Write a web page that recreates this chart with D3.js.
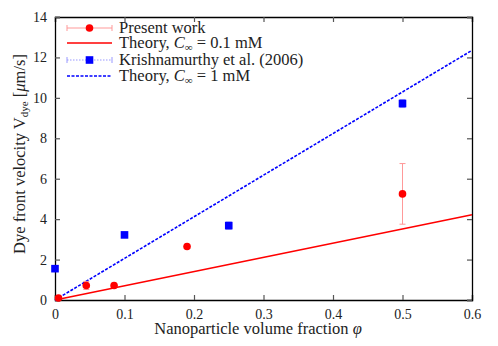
<!DOCTYPE html>
<html>
<head>
<meta charset="utf-8">
<script src="https://cdn.jsdelivr.net/npm/d3@7"></script>
<style>
  body { margin: 0; background: #fff; }
</style>
</head>
<body>
<svg id="chart"></svg>
<script>
const width = 498;
const height = 346;
const margin = {top: 17, right: 26, bottom: 46, left: 55};
const serif = "Liberation Serif";

// data
const presentX = [0.005, 0.045, 0.085, 0.19, 0.5];
const presentY = [0.1, 0.72, 0.72, 2.65, 5.25];
const presentErr = [0.05, 0.2, 0.1, 0.08, 1.5];
const krishX = [0, 0.1, 0.25, 0.5];
const krishY = [1.55, 3.22, 3.68, 9.72];
const krishErr = [0.05, 0.1, 0.18, 0.2];
const theoryX = [0, 0.6];
const theoryLow = [0, 4.22];
const theoryHigh = [0, 12.35];
const xTicks = [0, 0.1, 0.2, 0.3, 0.4, 0.5, 0.6];
const yTicks = [0, 2, 4, 6, 8, 10, 12, 14];

const svg = d3.select("#chart").attr("width", width).attr("height", height);

const x = d3.scaleLinear().domain([0, 0.6]).range([margin.left, width - margin.right]);
const y = d3.scaleLinear().domain([0, 14]).range([height - margin.bottom, margin.top]);

const g = svg.append("g");

// axes (box with inward ticks)
const tickCol = "#555";
g.append("g").attr("transform", `translate(0,${y(0)})`)
  .call(d3.axisBottom(x).tickValues(xTicks).tickSize(-5).tickPadding(9).tickFormat(d => d === 0 ? "0" : d3.format(".1f")(d)));
g.append("g").attr("transform", `translate(0,${y(14)})`)
  .call(d3.axisTop(x).tickValues(xTicks).tickSize(-5).tickFormat(""));
g.append("g").attr("transform", `translate(${x(0)},0)`)
  .call(d3.axisLeft(y).tickValues(yTicks).tickSize(-5).tickPadding(8));
g.append("g").attr("transform", `translate(${x(0.6)},0)`)
  .call(d3.axisRight(y).tickValues(yTicks).tickSize(-5).tickFormat(""));

g.selectAll(".domain").attr("stroke", "#000").attr("stroke-width", 1.3);
g.selectAll(".tick line").attr("stroke", tickCol).attr("stroke-width", 1.2);
g.selectAll(".tick text").attr("font-size", 14).attr("font-family", serif).attr("fill", "#222");

// theory lines
const line = d3.line().x(d => x(d[0])).y(d => y(d[1]));
g.append("path").datum(d3.zip(theoryX, theoryLow))
  .attr("d", line).attr("fill", "none").attr("stroke", "#f00").attr("stroke-width", 1.6);
g.append("path").datum(d3.zip(theoryX, theoryHigh))
  .attr("d", line).attr("fill", "none").attr("stroke", "#00f").attr("stroke-width", 1.6)
  .attr("stroke-dasharray", "3,1.5");

// error bars
function errorBars(xs, ys, es, col, cap) {
  const data = d3.zip(xs, ys, es);
  const eb = g.append("g").attr("stroke", col).attr("stroke-width", 1);
  eb.selectAll(".v").data(data).enter().append("line")
    .attr("x1", d => x(d[0])).attr("x2", d => x(d[0]))
    .attr("y1", d => y(d[1] - d[2])).attr("y2", d => y(d[1] + d[2]));
  eb.selectAll(".t").data(data).enter().append("line")
    .attr("x1", d => x(d[0]) - cap).attr("x2", d => x(d[0]) + cap)
    .attr("y1", d => y(d[1] + d[2])).attr("y2", d => y(d[1] + d[2]));
  eb.selectAll(".b").data(data).enter().append("line")
    .attr("x1", d => x(d[0]) - cap).attr("x2", d => x(d[0]) + cap)
    .attr("y1", d => y(d[1] - d[2])).attr("y2", d => y(d[1] - d[2]));
}
errorBars(presentX, presentY, presentErr, "#f99", 3);
errorBars(krishX, krishY, krishErr, "#99f", 3);

g.selectAll(".red").data(d3.zip(presentX, presentY)).enter().append("circle")
  .attr("cx", d => x(d[0])).attr("cy", d => y(d[1])).attr("r", 3.8).attr("fill", "#f00");
g.selectAll(".blue").data(d3.zip(krishX, krishY)).enter().append("rect")
  .attr("x", d => x(d[0]) - 3.8).attr("y", d => y(d[1]) - 3.8)
  .attr("width", 7.6).attr("height", 7.6).attr("fill", "#00f");

// legend
const leg = g.append("g");
const lx0 = 67, lx1 = 112, tx = 119;
const rows = [28, 43, 60, 76];
// row 1
leg.append("line").attr("x1", lx0).attr("x2", lx1).attr("y1", rows[0]).attr("y2", rows[0]).attr("stroke", "#f99");
[lx0, lx1].forEach(v => leg.append("line").attr("x1", v).attr("x2", v).attr("y1", rows[0] - 3).attr("y2", rows[0] + 3).attr("stroke", "#f99"));
leg.append("circle").attr("cx", (lx0 + lx1) / 2).attr("cy", rows[0]).attr("r", 3.8).attr("fill", "#f00");
// row 2
leg.append("line").attr("x1", lx0).attr("x2", lx1).attr("y1", rows[1]).attr("y2", rows[1]).attr("stroke", "#f00").attr("stroke-width", 1.6);
// row 3
leg.append("line").attr("x1", lx0).attr("x2", lx1).attr("y1", rows[2]).attr("y2", rows[2]).attr("stroke", "#99f").attr("stroke-dasharray", "1.5,1.5");
[lx0, lx1].forEach(v => leg.append("line").attr("x1", v).attr("x2", v).attr("y1", rows[2] - 3).attr("y2", rows[2] + 3).attr("stroke", "#99f"));
leg.append("rect").attr("x", (lx0 + lx1) / 2 - 3.8).attr("y", rows[2] - 3.8).attr("width", 7.6).attr("height", 7.6).attr("fill", "#00f");
// row 4
leg.append("line").attr("x1", lx0).attr("x2", lx1).attr("y1", rows[3]).attr("y2", rows[3]).attr("stroke", "#00f").attr("stroke-width", 1.6).attr("stroke-dasharray", "3,1.5");

function txt(sel) {
  return sel.append("text").attr("font-family", serif).attr("font-size", 16.5).attr("fill", "#222");
}
txt(leg).attr("x", tx).attr("y", rows[0] + 5).text("Present work");
const t2 = txt(leg).attr("x", tx).attr("y", rows[1] + 5);
t2.append("tspan").text("Theory, ");
t2.append("tspan").attr("font-style", "italic").text("C");
t2.append("tspan").attr("font-size", 11).attr("dy", 3).text("∞");
t2.append("tspan").attr("dy", -3).text(" = 0.1 mM");
txt(leg).attr("x", tx).attr("y", rows[2] + 5).text("Krishnamurthy et al. (2006)");
const t4 = txt(leg).attr("x", tx).attr("y", rows[3] + 5);
t4.append("tspan").text("Theory, ");
t4.append("tspan").attr("font-style", "italic").text("C");
t4.append("tspan").attr("font-size", 11).attr("dy", 3).text("∞");
t4.append("tspan").attr("dy", -3).text(" = 1 mM");

// axis labels
const xl = txt(svg).attr("x", 258).attr("y", 334)
  .attr("text-anchor", "middle");
xl.append("tspan").text("Nanoparticle volume fraction ");
xl.append("tspan").attr("font-style", "italic").text("φ");

const yl = txt(svg).attr("transform", `translate(25,154) rotate(-90)`)
  .attr("text-anchor", "middle");
yl.append("tspan").text("Dye front velocity V");
yl.append("tspan").attr("font-size", 11).attr("dy", 3).text("dye");
yl.append("tspan").attr("dy", -3).text(" [");
yl.append("tspan").attr("font-style", "italic").text("μ");
yl.append("tspan").text("m/s]");
</script>
</body>
</html>
